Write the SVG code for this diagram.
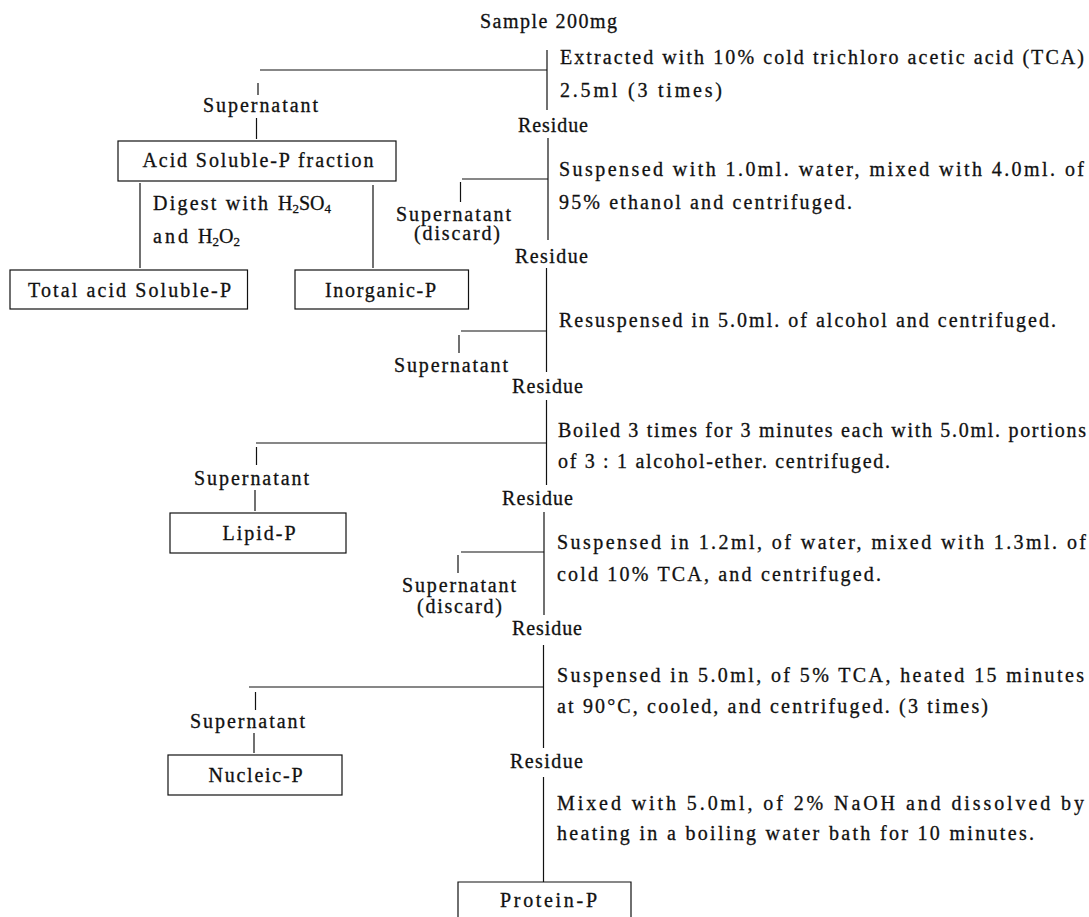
<svg xmlns="http://www.w3.org/2000/svg" width="1089" height="917" viewBox="0 0 1089 917">
<style>
text{font-family:"Liberation Serif","Times New Roman",serif;font-size:20px;fill:#111;stroke:#111;stroke-width:0.3}
.sub{font-size:13px}
.ln{stroke:#111;stroke-width:1.2;fill:none}
.box{stroke:#111;stroke-width:1.2;fill:none}
</style>
<rect width="1089" height="917" fill="#fff"/>
<g id="connectors" class="ln">
<path d="M547 50V110"/>
<path d="M260 70H547"/>
<path d="M258 83V95"/>
<path d="M256.5 118V139"/>
<path d="M548 138V240"/>
<path d="M462 179H548"/>
<path d="M460.5 182V202"/>
<path d="M140 183V268"/>
<path d="M373 185V268"/>
<path d="M546.5 268V372"/>
<path d="M461 331H546.5"/>
<path d="M459 335V353"/>
<path d="M546.5 400V485"/>
<path d="M256 443H546.5"/>
<path d="M256.5 447V465"/>
<path d="M255 490V511"/>
<path d="M544 512V615"/>
<path d="M461 552H544"/>
<path d="M458 555V573"/>
<path d="M543.5 645V748"/>
<path d="M249 687H543.5"/>
<path d="M255.5 692V710"/>
<path d="M254 733V753"/>
<path d="M543.5 777V882"/>
</g>
<g id="sample"><text x="480" y="28" textLength="137" lengthAdjust="spacing">Sample 200mg</text></g>
<g id="step1">
<text x="560" y="64" textLength="524" lengthAdjust="spacing">Extracted with 10% cold trichloro acetic acid (TCA)</text>
<text x="560" y="97" textLength="162" lengthAdjust="spacing">2.5ml  (3 times)</text>
</g>
<g id="residue1"><text x="518" y="132" textLength="70" lengthAdjust="spacing">Residue</text></g>
<g id="supernatant1"><text x="203" y="112" textLength="115" lengthAdjust="spacing">Supernatant</text></g>
<g id="acid-soluble">
<rect class="box" x="118" y="141" width="278" height="40"/>
<text x="142.5" y="167" textLength="231" lengthAdjust="spacing">Acid Soluble-P fraction</text>
</g>
<g id="digest">
<text x="153" y="210" textLength="115" lengthAdjust="spacing">Digest with</text>
<text x="278" y="210">H<tspan class="sub" dy="3">2</tspan><tspan dy="-3">SO</tspan><tspan class="sub" dy="3">4</tspan></text>
<text x="153" y="243" textLength="35" lengthAdjust="spacing">and</text>
<text x="198" y="243">H<tspan class="sub" dy="3">2</tspan><tspan dy="-3">O</tspan><tspan class="sub" dy="3">2</tspan></text>
</g>
<g id="total-acid">
<rect class="box" x="10" y="270" width="237.5" height="39"/>
<text x="28" y="297" textLength="203" lengthAdjust="spacing">Total acid Soluble-P</text>
</g>
<g id="inorganic">
<rect class="box" x="295" y="270" width="173.5" height="39"/>
<text x="325" y="297" textLength="111" lengthAdjust="spacing">Inorganic-P</text>
</g>
<g id="step2">
<text x="559" y="176" textLength="525" lengthAdjust="spacing">Suspensed with 1.0ml. water,  mixed with 4.0ml. of</text>
<text x="559" y="209" textLength="293" lengthAdjust="spacing">95% ethanol and centrifuged.</text>
</g>
<g id="supernatant2">
<text x="396" y="221" textLength="115" lengthAdjust="spacing">Supernatant</text>
<text x="414" y="240" textLength="86" lengthAdjust="spacing">(discard)</text>
</g>
<g id="residue2"><text x="515" y="263" textLength="73" lengthAdjust="spacing">Residue</text></g>
<g id="step3"><text x="559" y="327" textLength="497" lengthAdjust="spacing">Resuspensed in 5.0ml. of alcohol and centrifuged.</text></g>
<g id="supernatant3"><text x="394" y="372" textLength="114" lengthAdjust="spacing">Supernatant</text></g>
<g id="residue3"><text x="512" y="393" textLength="71" lengthAdjust="spacing">Residue</text></g>
<g id="step4">
<text x="558" y="437" textLength="528" lengthAdjust="spacing">Boiled 3 times for 3 minutes each with 5.0ml. portions</text>
<text x="558" y="468" textLength="332" lengthAdjust="spacing">of 3 : 1 alcohol-ether. centrifuged.</text>
</g>
<g id="supernatant4"><text x="194" y="485" textLength="115" lengthAdjust="spacing">Supernatant</text></g>
<g id="lipid">
<rect class="box" x="170" y="513" width="176" height="40"/>
<text x="222.5" y="540" textLength="73" lengthAdjust="spacing">Lipid-P</text>
</g>
<g id="residue4"><text x="502" y="505" textLength="71" lengthAdjust="spacing">Residue</text></g>
<g id="step5">
<text x="557" y="549" textLength="529" lengthAdjust="spacing">Suspensed in 1.2ml, of water,  mixed with 1.3ml. of</text>
<text x="557" y="581" textLength="324" lengthAdjust="spacing">cold 10% TCA, and centrifuged.</text>
</g>
<g id="supernatant5">
<text x="402" y="592" textLength="114" lengthAdjust="spacing">Supernatant</text>
<text x="417" y="613" textLength="85" lengthAdjust="spacing">(discard)</text>
</g>
<g id="residue5"><text x="512" y="635" textLength="70" lengthAdjust="spacing">Residue</text></g>
<g id="step6">
<text x="557" y="682" textLength="527" lengthAdjust="spacing">Suspensed in 5.0ml, of 5% TCA,  heated 15 minutes</text>
<text x="557" y="713" textLength="431" lengthAdjust="spacing">at 90°C, cooled, and centrifuged. (3 times)</text>
</g>
<g id="supernatant6"><text x="190" y="728" textLength="115" lengthAdjust="spacing">Supernatant</text></g>
<g id="nucleic">
<rect class="box" x="168" y="755" width="174" height="40"/>
<text x="208.5" y="782" textLength="94" lengthAdjust="spacing">Nucleic-P</text>
</g>
<g id="residue6"><text x="510" y="768" textLength="73" lengthAdjust="spacing">Residue</text></g>
<g id="step7">
<text x="557" y="810" textLength="527" lengthAdjust="spacing">Mixed with 5.0ml,  of 2%  NaOH and  dissolved by</text>
<text x="557" y="840" textLength="477" lengthAdjust="spacing">heating in a boiling water bath for 10 minutes.</text>
</g>
<g id="protein">
<path class="box" d="M458 917V882H631V917"/>
<text x="500" y="907" textLength="97" lengthAdjust="spacing">Protein-P</text>
</g>
</svg>
